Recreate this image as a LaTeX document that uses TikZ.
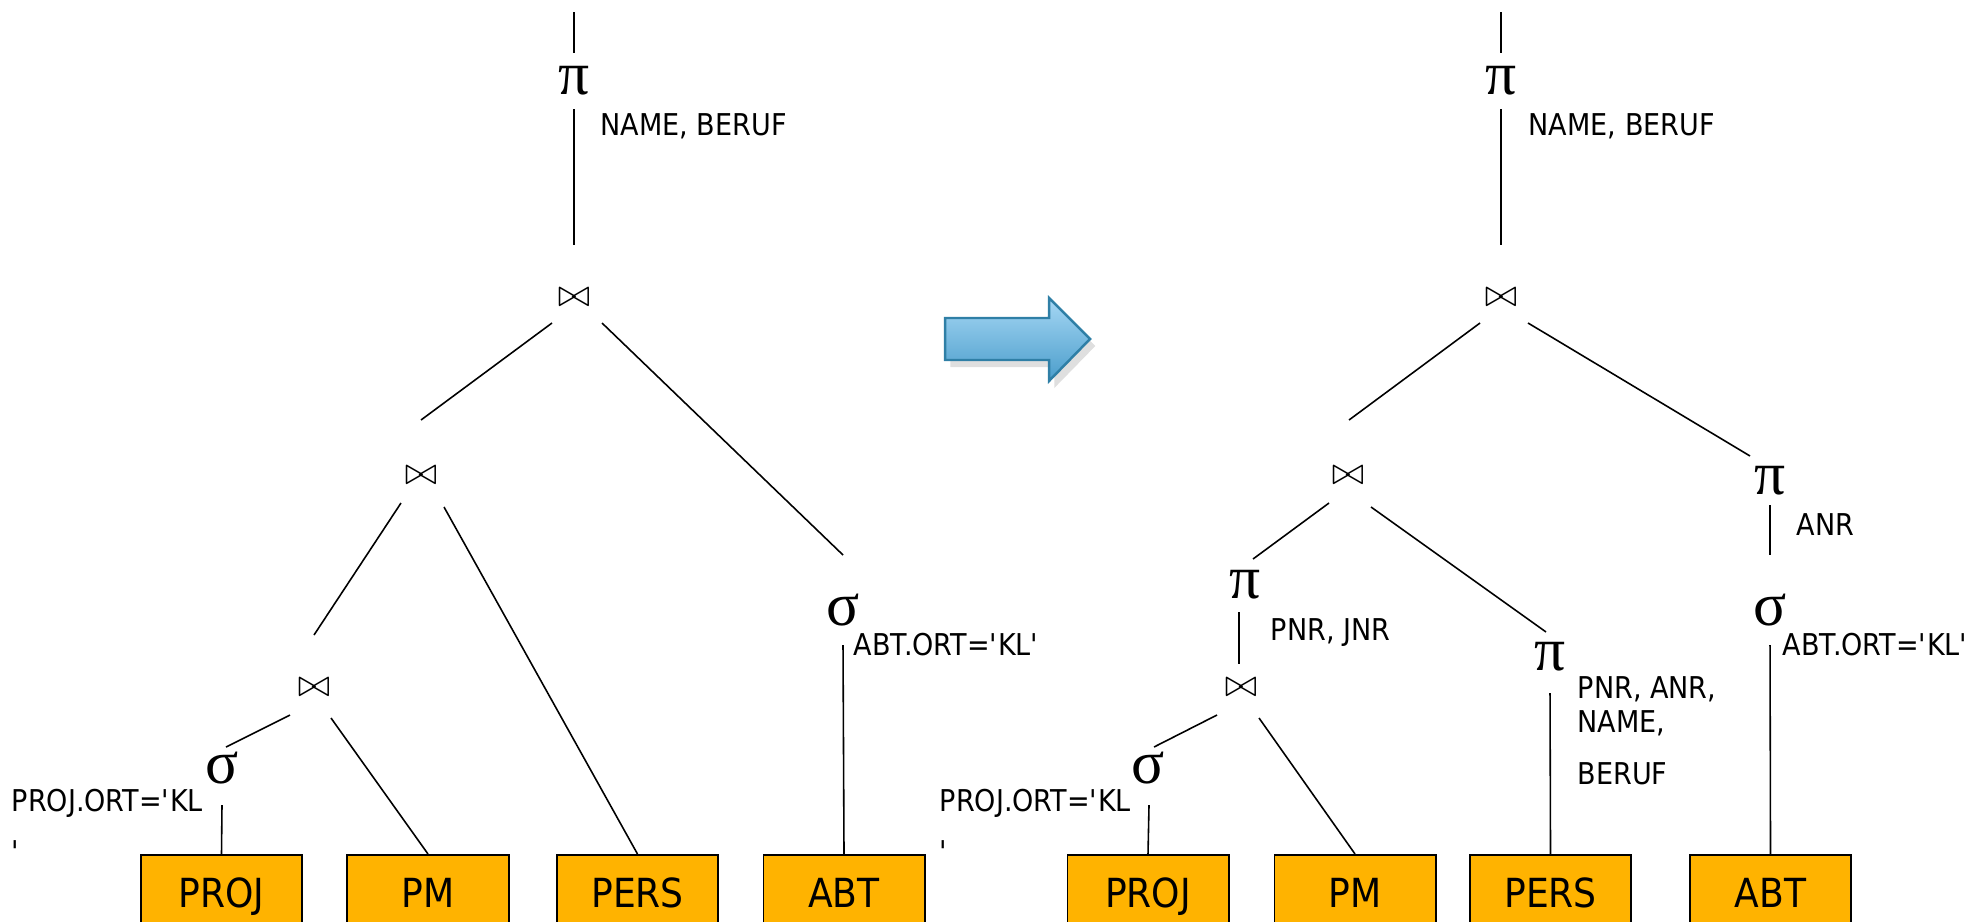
\documentclass[tikz,border=0pt]{standalone}
\usepackage{fontspec}
\newfontfamily\lblfont{DejaVu Sans}[FakeStretch=0.9]
\newfontfamily\grkfont{Liberation Serif}
\usetikzlibrary{shadows}
\definecolor{boxfill}{HTML}{FFB300}
\definecolor{arrtop}{HTML}{A6D7F4}
\definecolor{arrbot}{HTML}{4A9DCB}
\definecolor{arredge}{HTML}{2F7FA6}
\newcommand{\jsym}{$\bowtie$}
\begin{document}
\begin{tikzpicture}[x=0.01cm,y=-0.01cm,
  edge/.style={line width=0.45pt},
  op/.style={inner sep=0pt, font=\grkfont\fontsize{17.5pt}{17.5pt}\selectfont},
  jn/.style={inner sep=0pt, font=\fontsize{10.5pt}{10.5pt}\selectfont},
  lbl/.style={inner sep=0pt, font=\lblfont\fontsize{8.54pt}{10pt}\selectfont},
  rel/.style={draw=black, line width=0.55pt, fill=boxfill, inner sep=0pt,
    minimum width=1.61cm, minimum height=0.76cm, text height=8.3pt, text depth=0pt,
    font=\lblfont\fontsize{11.4pt}{12pt}\selectfont}]
\useasboundingbox (0,0) rectangle (1977,921);
\clip (0,0) rectangle (1977,921);

% ---------------- left tree ----------------
\coordinate (tL) at (574,12);
\node[op] (pL) at (574,81) {π};
\node[lbl, anchor=base west] (lpL) at (600,135) {NAME, BERUF};
\node[jn] (jL1) at (574,298) {\jsym};
\node[jn] (jL2) at (421,476) {\jsym};
\node[jn] (jL3) at (314,688) {\jsym};
\node[op] (sL1) at (222,768) {σ};
\node[op] (sL2) at (843,610) {σ};
\node[lbl, anchor=north west, align=left, font=\lblfont\fontsize{8.54pt}{14.5pt}\selectfont] (lsL1) at (11,788) {PROJ.ORT=\textquotesingle KL\\\textquotesingle};
\node[lbl, anchor=base west] (lsL2) at (853,655) {ABT.ORT=\textquotesingle KL\textquotesingle};
\node[rel] (bL1) at (221.5,893) {PROJ};
\node[rel] (bL2) at (428,893) {PM};
\node[rel] (bL3) at (637.5,893) {PERS};
\node[rel] (bL4) at (844,893) {ABT};

\draw[edge] (tL) -- ([shift={(0,-28)}]pL.center);
\draw[edge] ([shift={(0,28)}]pL.center) -- ([shift={(0,-53)}]jL1.center);
\draw[edge] ([shift={(-22,25)}]jL1.center) -- ([shift={(0,-56)}]jL2.center);
\draw[edge] ([shift={(28,25)}]jL1.center) -- ([shift={(0,-55)}]sL2.center);
\draw[edge] ([shift={(-20,27)}]jL2.center) -- ([shift={(0,-53)}]jL3.center);
\draw[edge] ([shift={(23,31)}]jL2.center) -- (bL3.north);
\draw[edge] ([shift={(-24,27)}]jL3.center) -- ([shift={(4,-21)}]sL1.center);
\draw[edge] ([shift={(17,30)}]jL3.center) -- (bL2.north);
\draw[edge] ([shift={(0,37)}]sL1.center) -- (bL1.north);
\draw[edge] ([shift={(0,35)}]sL2.center) -- (bL4.north);

% ---------------- arrow ----------------
\path[draw=arredge, line width=0.7pt, top color=arrtop, bottom color=arrbot,
  drop shadow={opacity=0.25, shadow xshift=1.5pt, shadow yshift=-2pt}]
  (945,318) -- (1049,318) -- (1049,298) -- (1090,339) -- (1049,381) -- (1049,360) -- (945,360) -- cycle;

% ---------------- right tree ----------------
\coordinate (tR) at (1501,12);
\node[op] (pR) at (1501,81) {π};
\node[lbl, anchor=base west] (lpR) at (1528,135) {NAME, BERUF};
\node[jn] (jR1) at (1501,298) {\jsym};
\node[jn] (jR2) at (1348,476) {\jsym};
\node[op] (pR3) at (1770,481) {π};
\node[lbl, anchor=base west] (lpR3) at (1796,535) {ANR};
\node[op] (sR2) at (1770,610) {σ};
\node[lbl, anchor=base west] (lsR2) at (1782,655) {ABT.ORT=\textquotesingle KL\textquotesingle};
\node[op] (pR2) at (1245,585) {π};
\node[lbl, anchor=base west] (lpR2) at (1270,640) {PNR, JNR};
\node[op] (pR4) at (1550,657) {π};
\node[lbl, anchor=north west, align=left, font=\lblfont\fontsize{8.54pt}{9.7pt}\selectfont] (lpR4) at (1577,676) {PNR, ANR,\\NAME,\\[5.1pt]BERUF};
\node[jn] (jR3) at (1241,688) {\jsym};
\node[op] (sR1) at (1148,768) {σ};
\node[lbl, anchor=north west, align=left, font=\lblfont\fontsize{8.54pt}{14.5pt}\selectfont] (lsR1) at (939,788) {PROJ.ORT=\textquotesingle KL\\\textquotesingle};
\node[rel] (bR1) at (1148,893) {PROJ};
\node[rel] (bR2) at (1355,893) {PM};
\node[rel] (bR3) at (1550.5,893) {PERS};
\node[rel] (bR4) at (1770.5,893) {ABT};

\draw[edge] (tR) -- ([shift={(0,-28)}]pR.center);
\draw[edge] ([shift={(0,28)}]pR.center) -- ([shift={(0,-53)}]jR1.center);
\draw[edge] ([shift={(-21,25)}]jR1.center) -- ([shift={(1,-56)}]jR2.center);
\draw[edge] ([shift={(27,25)}]jR1.center) -- ([shift={(-20,-25)}]pR3.center);
\draw[edge] ([shift={(0,24)}]pR3.center) -- ([shift={(0,-55)}]sR2.center);
\draw[edge] ([shift={(0,35)}]sR2.center) -- (bR4.north);
\draw[edge] ([shift={(-19,27)}]jR2.center) -- ([shift={(8,-26)}]pR2.center);
\draw[edge] ([shift={(23,31)}]jR2.center) -- ([shift={(-4,-25)}]pR4.center);
\draw[edge] ([shift={(-6,27)}]pR2.center) -- ([shift={(-2,-24)}]jR3.center);
\draw[edge] ([shift={(0,36)}]pR4.center) -- (bR3.north);
\draw[edge] ([shift={(-24,27)}]jR3.center) -- ([shift={(6,-21)}]sR1.center);
\draw[edge] ([shift={(18,30)}]jR3.center) -- (bR2.north);
\draw[edge] ([shift={(1,37)}]sR1.center) -- (bR1.north);
\end{tikzpicture}
\end{document}
